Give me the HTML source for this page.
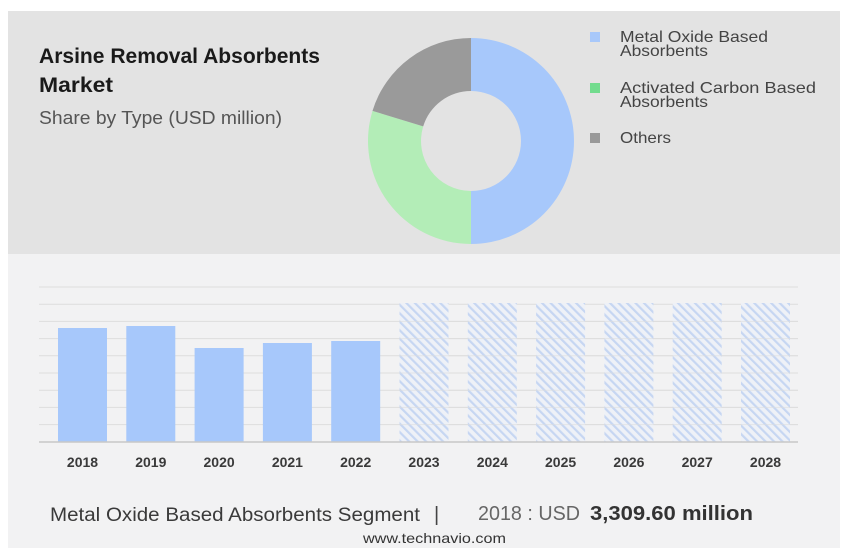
<!DOCTYPE html>
<html><head><meta charset="utf-8"><style>
html,body{margin:0;padding:0;background:#fff;width:846px;height:559px;overflow:hidden}
svg{display:block}
text{font-family:"Liberation Sans",sans-serif}
</style></head><body>
<svg width="846" height="559" viewBox="0 0 846 559" xmlns="http://www.w3.org/2000/svg">
<defs>
<pattern id="hatch" width="6" height="6" patternUnits="userSpaceOnUse" patternTransform="rotate(-45)">
<rect width="6" height="6" fill="#eef1f7"/>
<rect x="0" y="0" width="2.2" height="6" fill="#c6d6f2"/>
</pattern>
</defs>
<rect x="0" y="0" width="846" height="559" fill="#fff"/>
<rect x="8" y="11" width="832" height="243" fill="#e3e3e3"/>
<rect x="8" y="254" width="832" height="294" fill="#f2f2f3"/>

<text x="39" y="63" font-size="21" font-weight="bold" fill="#1a1a1a" textLength="281" lengthAdjust="spacingAndGlyphs">Arsine Removal Absorbents</text>
<text x="39" y="92" font-size="21" font-weight="bold" fill="#1a1a1a" textLength="74" lengthAdjust="spacingAndGlyphs">Market</text>
<text x="39" y="124" font-size="18" fill="#555" textLength="243" lengthAdjust="spacingAndGlyphs">Share by Type (USD million)</text>

<path d="M471,38 A103,103 0 0 1 471,244 L471,191 A50,50 0 0 0 471,91 Z" fill="#a7c8fb"/>
<path d="M471,244 A103,103 0 0 1 372.5,110.9 L423.2,126.4 A50,50 0 0 0 471,191 Z" fill="#b3edb7"/>
<path d="M372.5,110.9 A103,103 0 0 1 471,38 L471,91 A50,50 0 0 0 423.2,126.4 Z" fill="#9a9a9a"/>

<rect x="590" y="32" width="10" height="10" fill="#a8c8fa"/>
<rect x="590" y="83" width="10" height="10" fill="#72dc8e"/>
<rect x="590" y="133" width="10" height="10" fill="#999"/>
<g font-size="16" fill="#444">
<text x="620" y="42" textLength="148" lengthAdjust="spacingAndGlyphs">Metal Oxide Based</text>
<text x="620" y="56" textLength="88" lengthAdjust="spacingAndGlyphs">Absorbents</text>
<text x="620" y="93" textLength="196" lengthAdjust="spacingAndGlyphs">Activated Carbon Based</text>
<text x="620" y="107" textLength="88" lengthAdjust="spacingAndGlyphs">Absorbents</text>
<text x="620" y="143" textLength="51" lengthAdjust="spacingAndGlyphs">Others</text>
</g>

<g stroke="#dddddd" stroke-width="1">
<line x1="39" y1="287" x2="798" y2="287"/>
<line x1="39" y1="304.2" x2="798" y2="304.2"/>
<line x1="39" y1="321.4" x2="798" y2="321.4"/>
<line x1="39" y1="338.6" x2="798" y2="338.6"/>
<line x1="39" y1="355.8" x2="798" y2="355.8"/>
<line x1="39" y1="373" x2="798" y2="373"/>
<line x1="39" y1="390.2" x2="798" y2="390.2"/>
<line x1="39" y1="407.4" x2="798" y2="407.4"/>
<line x1="39" y1="424.6" x2="798" y2="424.6"/>
</g>

<g fill="#a7c8fb">
<rect x="58" y="328" width="49" height="114"/>
<rect x="126.3" y="326" width="49" height="116"/>
<rect x="194.6" y="348" width="49" height="94"/>
<rect x="262.9" y="343" width="49" height="99"/>
<rect x="331.2" y="341" width="49" height="101"/>
</g>
<g fill="url(#hatch)">
<rect x="399.5" y="303" width="49" height="139"/>
<rect x="467.8" y="303" width="49" height="139"/>
<rect x="536.1" y="303" width="49" height="139"/>
<rect x="604.4" y="303" width="49" height="139"/>
<rect x="672.7" y="303" width="49" height="139"/>
<rect x="741" y="303" width="49" height="139"/>
</g>
<g stroke="#dddddd" stroke-width="1" opacity="0.6">
<line x1="399" y1="321.4" x2="798" y2="321.4"/>
<line x1="399" y1="338.6" x2="798" y2="338.6"/>
<line x1="399" y1="355.8" x2="798" y2="355.8"/>
<line x1="399" y1="373" x2="798" y2="373"/>
<line x1="399" y1="390.2" x2="798" y2="390.2"/>
<line x1="399" y1="407.4" x2="798" y2="407.4"/>
<line x1="399" y1="424.6" x2="798" y2="424.6"/>
</g>
<line x1="39" y1="442" x2="798" y2="442" stroke="#c8c8c8" stroke-width="1.5"/>

<g font-size="14" font-weight="bold" fill="#3a3a3a" text-anchor="middle">
<text x="82.5" y="467">2018</text>
<text x="150.8" y="467">2019</text>
<text x="219.1" y="467">2020</text>
<text x="287.4" y="467">2021</text>
<text x="355.7" y="467">2022</text>
<text x="424" y="467">2023</text>
<text x="492.3" y="467">2024</text>
<text x="560.6" y="467">2025</text>
<text x="628.9" y="467">2026</text>
<text x="697.2" y="467">2027</text>
<text x="765.5" y="467">2028</text>
</g>

<text x="50" y="521" font-size="19" fill="#3a3a3a" textLength="370" lengthAdjust="spacingAndGlyphs">Metal Oxide Based Absorbents Segment</text>
<text x="434" y="521" font-size="20" fill="#444">|</text>
<text x="478" y="520" font-size="20" fill="#666" textLength="102" lengthAdjust="spacingAndGlyphs">2018 : USD</text>
<text x="590" y="520" font-size="20" font-weight="bold" fill="#333" textLength="163" lengthAdjust="spacingAndGlyphs">3,309.60 million</text>
<text x="363" y="543" font-size="14" fill="#333" textLength="143" lengthAdjust="spacingAndGlyphs">www.technavio.com</text>
</svg>
</body></html>
